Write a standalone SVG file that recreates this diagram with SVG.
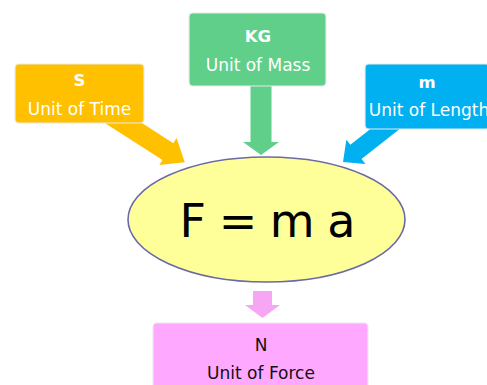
<svg xmlns="http://www.w3.org/2000/svg" width="487" height="385" viewBox="0 0 487 385">
<style>
.box{stroke:#e9e9e9;stroke-width:1.2}
.t{font-family:"DejaVu Sans","Verdana",sans-serif;font-size:17px;text-anchor:middle}
.b{font-weight:bold;font-size:16.5px}
.w{fill:#ffffff}
.k{fill:#111111}
</style>
<rect width="487" height="385" fill="#ffffff"/>
<g id="connectors">
  <polygon fill="#ffc000" transform="translate(125,124) rotate(32.7)" points="-25,-10 51,-10 51,-16 71,0 51,16 51,10 -25,10"/>
  <polygon fill="#5fcf8a" points="250.5,80 271.5,80 271.5,142 279,142 261,155 243,142 250.5,142"/>
  <polygon fill="#00b0f0" transform="translate(385,129) rotate(141.8)" points="-20,-9 37,-9 37,-15.5 53.4,0 37,15.5 37,9 -20,9"/>
  <polygon fill="#f7a6f5" points="253,291 272,291 272,305 280,305 262.5,318 245,305 253,305"/>
</g>
<g id="node-s">
  <rect class="box" x="15" y="64" width="129" height="59" rx="4" fill="#ffc000"/>
  <text class="t b w" x="79.5" y="86">S</text>
  <text class="t w" x="79.5" y="115">Unit of Time</text>
</g>
<g id="node-kg">
  <rect class="box" x="189" y="13" width="137" height="73" rx="4" fill="#5fcf8a"/>
  <text class="t b w" x="258" y="42">KG</text>
  <text class="t w" x="258" y="71">Unit of Mass</text>
</g>
<g id="node-m">
  <rect class="box" x="365" y="64" width="125" height="65" rx="4" fill="#00b0f0"/>
  <text class="t b w" x="427" y="88">m</text>
  <text class="t w" x="429" y="116">Unit of Length</text>
</g>
<g id="node-f">
  <ellipse cx="266.5" cy="219.5" rx="138.5" ry="62.5" fill="#ffff99" stroke="#6a6aa6" stroke-width="1.6"/>
  <text x="267" y="237" font-family="DejaVu Sans, Verdana, sans-serif" font-size="46" letter-spacing="-1" text-anchor="middle" fill="#000000">F = m a</text>
</g>
<g id="node-n">
  <rect class="box" x="153" y="323" width="215" height="70" rx="4" fill="#ffa8ff"/>
  <text class="t k" x="261" y="351">N</text>
  <text class="t k" x="261" y="379">Unit of Force</text>
</g>
</svg>
